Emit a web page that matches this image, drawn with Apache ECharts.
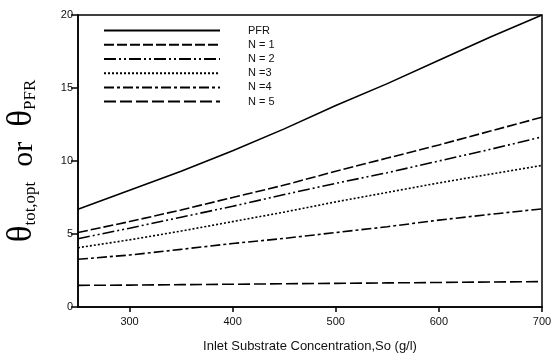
<!DOCTYPE html>
<html>
<head>
<meta charset="utf-8">
<script src="https://cdn.jsdelivr.net/npm/echarts@6/dist/echarts.min.js"></script>
<style>
  html, body { margin: 0; padding: 0; background: #fff; }
  #chart { width: 551px; height: 358px; }
</style>
</head>
<body>
<div id="chart"></div>
<script>
// inlet substrate concentration So (g/l)
const so = [250, 300, 350, 400, 450, 500, 550, 600, 650, 700];

// theta values
const pfr = [6.7, 8.0, 9.3, 10.7, 12.2, 13.8, 15.3, 16.9, 18.5, 20.0];
const n1 = [5.1, 5.85, 6.65, 7.5, 8.35, 9.3, 10.2, 11.1, 12.05, 13.0];
const n2 = [4.68, 5.4, 6.15, 6.9, 7.7, 8.47, 9.2, 10.0, 10.8, 11.65];
const n3 = [4.06, 4.6, 5.2, 5.85, 6.5, 7.2, 7.85, 8.5, 9.1, 9.7];
const n4 = [3.27, 3.56, 3.95, 4.35, 4.7, 5.1, 5.5, 5.95, 6.35, 6.72];
const n5 = [1.48, 1.5, 1.53, 1.56, 1.59, 1.62, 1.65, 1.68, 1.71, 1.74];

const names = ['PFR', 'N = 1', 'N = 2', 'N =3', 'N =4', 'N = 5'];
const xTicks = [300, 400, 500, 600, 700];

const chart = echarts.init(document.getElementById('chart'));

const dashes = ['solid', [10, 3], [12, 3, 2, 3, 2, 3], [2, 2], [10, 3, 3, 3], [12, 4]];
const values = [pfr, n1, n2, n3, n4, n5];

const font = 'Arial, "Liberation Sans", sans-serif';
const serif = '"Times New Roman", "Liberation Serif", serif';

chart.setOption({
  animation: false,
  grid: {
    left: 78, right: 9, top: 15, bottom: 51,
    outerBoundsMode: 'none',
    show: true, borderColor: '#000', borderWidth: 1.5
  },
  legend: {
    orient: 'vertical',
    left: 98,
    top: 20,
    itemWidth: 116,
    itemHeight: 14,
    itemGap: 3,
    data: names,
    itemStyle: { opacity: 0 },
    textStyle: { fontFamily: font, fontSize: 11, color: '#111', padding: [0, 0, 0, 23] }
  },
  xAxis: {
    type: 'value',
    min: 250,
    max: 700,
    name: 'Inlet Substrate Concentration,So (g/l)',
    nameLocation: 'middle',
    nameGap: 33,
    nameTextStyle: { fontFamily: font, fontSize: 13, color: '#111' },
    axisLine: { lineStyle: { color: '#000', width: 1.5 } },
    axisTick: { length: 5, lineStyle: { color: '#000', width: 1.5 }, customValues: xTicks },
    axisLabel: { fontFamily: font, fontSize: 11, color: '#111', margin: 9, customValues: xTicks },
    splitLine: { show: false }
  },
  yAxis: {
    type: 'value',
    min: 0,
    max: 20,
    interval: 5,
    name: '{a|θ}{s|tot,opt}{b|  or  }{a|θ}{s|PFR}',
    nameLocation: 'middle',
    nameRotate: 90,
    nameGap: 39,
    nameTextStyle: {
      fontFamily: serif,
      color: '#000',
      rich: {
        a: { fontFamily: serif, fontSize: 35, lineHeight: 35, verticalAlign: 'bottom', color: '#000' },
        b: { fontFamily: serif, fontSize: 30, lineHeight: 30, verticalAlign: 'bottom', color: '#000' },
        s: { fontFamily: serif, fontSize: 17, lineHeight: 16, verticalAlign: 'bottom', color: '#000' }
      }
    },
    axisLine: { show: true, lineStyle: { color: '#000', width: 1.5 } },
    axisTick: { show: true, length: 7, lineStyle: { color: '#000', width: 1.5 } },
    axisLabel: { fontFamily: font, fontSize: 11, color: '#111', margin: 5 },
    splitLine: { show: false }
  },
  series: names.map((name, i) => ({
    name: name,
    type: 'line',
    symbol: 'none',
    data: so.map((x, j) => [x, values[i][j]]),
    lineStyle: { color: '#000', width: 1.6, type: dashes[i] },
    itemStyle: { color: '#000' }
  }))
});
</script>
</body>
</html>
